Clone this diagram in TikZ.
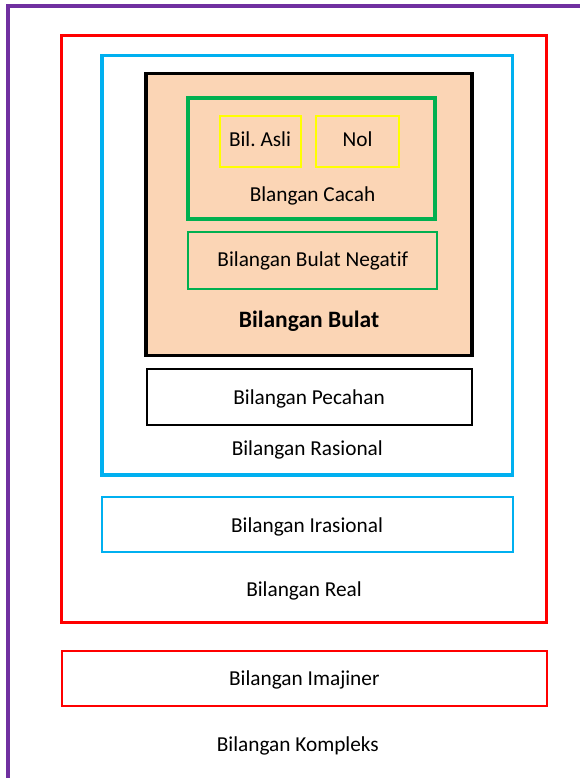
\documentclass[tikz,border=0pt]{standalone}
\usepackage{fontspec}
\setmainfont[Ligatures=NoCommon]{Carlito}
\frenchspacing
\definecolor{cpurple}{HTML}{7030A0}
\definecolor{cred}{HTML}{FF0000}
\definecolor{cblue}{HTML}{00B0F0}
\definecolor{cgreen}{HTML}{00B050}
\definecolor{cyellow}{HTML}{FFFF00}
\definecolor{cpeach}{HTML}{FBD5B5}
\tikzset{
  box/.style={rectangle, inner sep=0pt, outer sep=0pt},
  thickbox/.style={box, line width=3.5pt},
  thinbox/.style={box, line width=2pt},
  lbl/.style={inner sep=0pt, anchor=base, font=\fontsize{21.3}{25}\selectfont},
  boldlbl/.style={lbl, font=\fontsize{23.5}{27}\selectfont\bfseries}
}
\begin{document}
\begin{tikzpicture}[x=1pt,y=-1pt]
\useasboundingbox (0,0) rectangle (580,778);
\clip (0,0) rectangle (580,778);
% outer purple frame (only left and top visible)
\node[thickbox, draw=cpurple, anchor=north west, minimum width=600pt, minimum height=800pt] (kompleks) at (8,6) {};
% Real
\node[thickbox, draw=cred, anchor=north west, minimum width=485pt, minimum height=587pt] (real) at (61.5,35.5) {};
% Rasional
\node[thickbox, draw=cblue, anchor=north west, minimum width=410.5pt, minimum height=419.5pt] (rasional) at (102,55.5) {};
% Bulat
\node[thickbox, draw=black, fill=cpeach, anchor=north west, minimum width=326pt, minimum height=282pt] (bulat) at (146,73.5) {};
% Cacah
\node[thickbox, draw=cgreen, anchor=north west, minimum width=247pt, minimum height=121pt] (cacah) at (188,98) {};
% Asli, Nol
\node[thinbox, draw=cyellow, anchor=north west, minimum width=81pt, minimum height=51pt] (asli) at (220,116) {};
\node[thinbox, draw=cyellow, anchor=north west, minimum width=83pt, minimum height=51pt] (nol) at (316,116) {};
% Negatif
\node[thinbox, draw=cgreen, anchor=north west, minimum width=248.5pt, minimum height=56.5pt] (negatif) at (188,232) {};
% Pecahan
\node[thinbox, draw=black, fill=white, anchor=north west, minimum width=325.5pt, minimum height=56pt] (pecahan) at (146.5,368.5) {};
% Irasional
\node[thinbox, draw=cblue, anchor=north west, minimum width=410.5pt, minimum height=55pt] (irasional) at (102,496.5) {};
% Imajiner
\node[thinbox, draw=cred, anchor=north west, minimum width=484.5pt, minimum height=55pt] (imajiner) at (62,651) {};
% labels
\node[lbl] (tasli) at (260,146.7) {Bil. Asli};
\node[lbl] (tnol) at (357.5,146.7) {Nol};
\node[lbl] (tcacah) at (312.5,201.7) {Blangan Cacah};
\node[lbl] (tnegatif) at (312.8,266.7) {Bilangan Bulat Negatif};
\node[boldlbl] (tbulat) at (309,327.7) {Bilangan Bulat};
\node[lbl] (tpecahan) at (309,404.3) {Bilangan Pecahan};
\node[lbl] (trasional) at (307.3,455.7) {Bilangan Rasional};
\node[lbl] (tirasional) at (307,532.3) {Bilangan Irasional};
\node[lbl] (treal) at (304,596.7) {Bilangan Real};
\node[lbl] (timajiner) at (304.3,685.7) {Bilangan Imajiner};
\node[lbl] (tkompleks) at (297.8,751) {Bilangan Kompleks};
\end{tikzpicture}
\end{document}
